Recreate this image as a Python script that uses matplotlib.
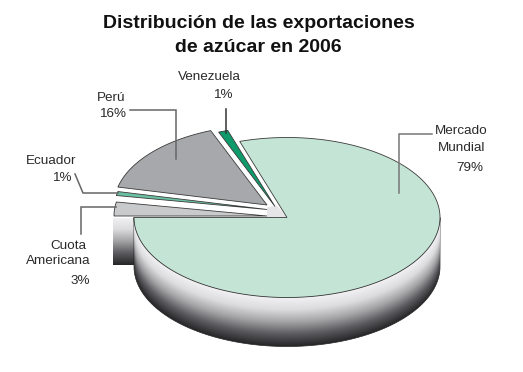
"""
Distribución de las exportaciones de azúcar en 2006 - exploded 3D style pie
"""
import numpy as np
import matplotlib
matplotlib.use('Agg')
import matplotlib.pyplot as plt
from matplotlib.colors import LinearSegmentedColormap
from matplotlib.patches import Polygon

plt.rcParams['font.family'] = ['Liberation Sans', 'DejaVu Sans']

categories = ['Mercado Mundial', 'Venezuela', 'Perú', 'Ecuador', 'Cuota Americana']
shares = [80.0, 1.0, 15.4, 0.8, 2.8]
pct_labels = ['79%', '1%', '16%', '1%', '3%']

# Layout in pixels
cx, cy = 287, 217.5
rx, ry = 153, 80
depth = 49
start_angle = 180
colors = ['#c4e5d6', '#0f9a6c', '#a6a8ab', '#6cc0a2', '#c9cacc']
offsets = [(0, 0), (-12, -11), (-20, -12.5), (-20, -8), (-20, -1.5)]

fig = plt.figure(figsize=(5.23, 3.72), dpi=100, facecolor='white')
ax = fig.add_axes([0, 0, 1, 1])

shade = LinearSegmentedColormap.from_list(
    'side', ['#f2f2f4', '#dcdcde', '#a4a4a6', '#5c5c60', '#262628'])


def ellipse_pts(t0, t1, x0=cx, y0=cy, n=200):
    t = np.radians(np.linspace(t0, t1, n))
    return np.column_stack([x0 + rx * np.cos(t), y0 - ry * np.sin(t)])


# Side of the Cuota slice, sticks out behind the big one
dx_c, dy_c = offsets[4]
left_x = cx + dx_c - rx - 1
side_l = Polygon([(left_x, cy), (left_x + 60, cy), (left_x + 60, cy + depth - 1),
                  (left_x, cy + depth - 1)], transform=ax.transData, fc='none', ec='none')
ax.add_patch(side_l)
grad = np.linspace(0, 1, 100)[:, None]
im = ax.imshow(grad, cmap=shade, extent=(left_x, left_x + 60, cy + depth - 1, cy),
               aspect='auto', zorder=1)
im.set_clip_path(side_l)

# Side of the big slice
side_pts = np.vstack([ellipse_pts(180, 360),
                      ellipse_pts(360, 180, y0=cy + depth)])
side = Polygon(side_pts, fc='none', ec='#222222', lw=0.5, zorder=2)
ax.add_patch(side)
xs = np.arange(cx - rx - 1, cx + rx + 2, 0.5)
ys = np.arange(cy, cy + depth + ry + 2, 0.5)
X, Y = np.meshgrid(xs, ys)
top = cy + ry * np.sqrt(np.clip(1 - ((X - cx) / rx) ** 2, 0, 1))
im2 = ax.imshow(np.clip((Y - top) / depth, 0, 1), cmap=shade,
                extent=(xs[0], xs[-1], ys[-1], ys[0]), aspect='auto', zorder=2)
im2.set_clip_path(side)

# Light inner faces seen near the tip
ax.add_patch(Polygon([(cx, cy), (cx - 10, cy - 12), (cx - 20, cy - 10), (cx - 20, cy)],
                     fc='#e6e6e8', ec='none', zorder=2.5))

# Slices, counter clockwise from the left
angle = start_angle
for name, share, color, (dx, dy) in zip(categories, shares, colors, offsets):
    sweep = share / sum(shares) * 360
    arc = ellipse_pts(angle, angle + sweep, cx + dx, cy + dy)
    apex = (cx + dx, cy + dy)
    ax.add_patch(Polygon(np.vstack([[apex], arc]), fc=color, ec='#3a3a3a', lw=0.6,
                         joinstyle='miter', zorder=3))
    angle += sweep

# Leader lines
leaders = [
    [(226, 109), (226, 133)],
    [(130, 110), (176, 110), (176, 159)],
    [(75, 174), (83, 193), (118, 193)],
    [(81, 234), (81, 207), (116, 207)],
    [(432, 134), (399, 134), (399, 193)],
]
leader_colors = ['#333333', '#666666', '#666666', '#666666', '#777777']
for pts, lc in zip(leaders, leader_colors):
    ax.plot(*zip(*pts), color=lc, lw=1.1, zorder=4, solid_joinstyle='miter')

# Labels
txt = dict(fontsize=9.7, color='#2a2a2a', ha='center', va='center', zorder=5)
ax.text(209, 77, categories[1], **txt)
ax.text(223, 95, pct_labels[1], **txt)
ax.text(111, 98, categories[2], **txt)
ax.text(113, 114, pct_labels[2], **txt)
ax.text(51, 161, categories[3], **txt)
ax.text(62, 178, pct_labels[3], **txt)
ax.text(68, 246, 'Cuota', **txt)
ax.text(58, 261, 'Americana', **txt)
ax.text(80, 281, pct_labels[4], **txt)
ax.text(461, 131, 'Mercado', **txt)
ax.text(462, 148, 'Mundial', **txt)
ax.text(470, 168, pct_labels[0], **txt)

# Title
ax.text(258.5, 23, 'Distribución de las exportaciones', fontsize=14, fontweight='bold',
        color='#111111', ha='center', va='center')
ax.text(258.5, 48, 'de azúcar en 2006', fontsize=14, fontweight='bold',
        color='#111111', ha='center', va='center')

ax.set_xlim(0, 523)
ax.set_ylim(372, 0)
ax.axis('off')

plt.savefig('out.png', dpi=100, facecolor='white')
